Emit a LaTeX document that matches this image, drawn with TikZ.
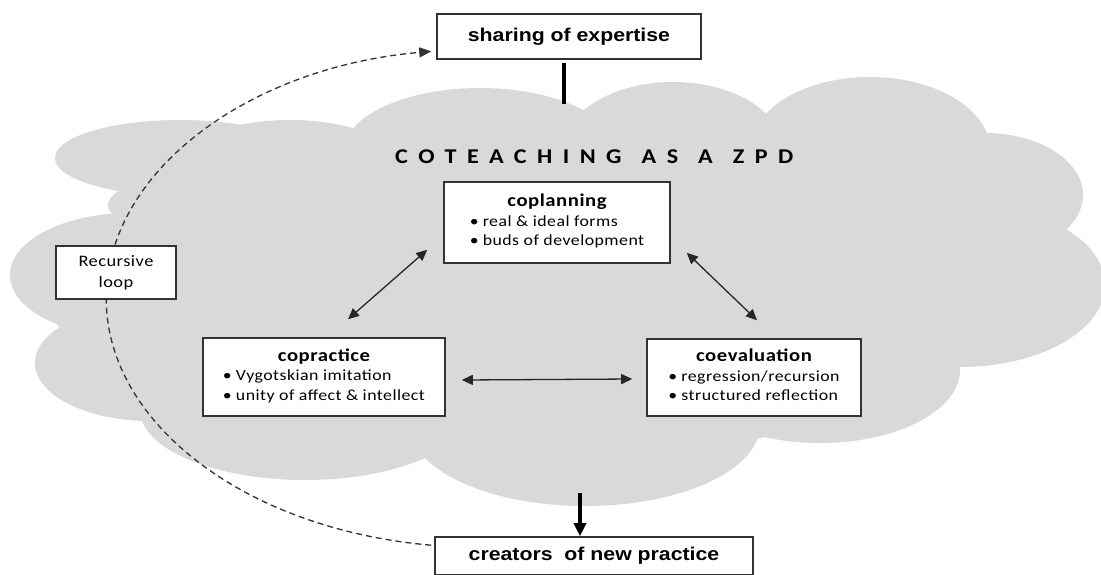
\documentclass[tikz,border=0pt]{standalone}
\usepackage{fontspec}
\setmainfont{Carlito}[FakeStretch=1.15]
\newfontfamily\arialf{Liberation Sans}[FakeStretch=1.15]
\newfontfamily\zpdf{Carlito}[FakeStretch=1.15,LetterSpace=50]
\newfontfamily\bodyf{Carlito}[FakeStretch=1.15,LetterSpace=3]
\usetikzlibrary{arrows.meta,calc}
\definecolor{cloudgray}{HTML}{D9D9D9}
\definecolor{boxline}{HTML}{333333}
\newcommand\cobul{\makebox[13pt][l]{\textbullet}}
\newcommand\cottl{\fontsize{18}{19.5}\selectfont\bfseries}
\newcommand\cobody{\bodyf\fontsize{15.5}{19.5}\selectfont}
\begin{document}
\begin{tikzpicture}[x=1pt,y=-1pt,
  box/.style={draw=boxline,line width=1.6pt,fill=white,inner sep=0pt,rectangle},
  dbl/.style={{Triangle[length=11pt,width=10pt]}-{Triangle[length=11pt,width=10pt]},line width=1.3pt,draw=black!85},
  heavy/.style={line width=4pt,draw=black},
  loopline/.style={dash pattern=on 6pt off 4pt,line width=1.3pt,draw=black!80,-{Triangle[length=12pt,width=10pt]}}
]
\path[use as bounding box, clip] (0,0) rectangle (1101,574);
\fill[white] (0,0) rectangle (1101,574);
% cloud
\begin{scope}[cloudgray]
\fill (180,158) ellipse[x radius=125,y radius=38];
\fill (290,165) ellipse[x radius=110,y radius=45];
\fill (480,150) ellipse[x radius=135,y radius=62];
\fill (673,150) ellipse[x radius=110,y radius=68];
\fill (870,150) ellipse[x radius=120,y radius=73];
\fill (985,195) ellipse[x radius=98,y radius=62];
\fill (960,285) ellipse[x radius=145,y radius=82];
\fill (820,370) ellipse[x radius=140,y radius=73];
\fill (585,425) ellipse[x radius=175,y radius=81];
\fill (305,410) ellipse[x radius=165,y radius=70];
\fill (150,363) ellipse[x radius=115,y radius=58];
\fill (130,275) ellipse[x radius=120,y radius=62];
\fill (200,205) ellipse[x radius=92,y radius=30];
\fill (120,190) -- (200,150) -- (380,140) -- (480,120) -- (580,125) -- (680,110) -- (767,125) -- (870,100) -- (990,150) -- (1040,220) -- (1050,290) -- (960,350) -- (830,420) -- (600,480) -- (400,455) -- (300,460) -- (150,400) -- (60,330) -- (40,280) -- (110,230) -- cycle;
\end{scope}
% outer boxes
\node[box,minimum width=264pt,minimum height=45pt] (share) at (569,36.5)
  {\arialf\bfseries\fontsize{18.5}{22}\selectfont sharing of expertise};
\node[box,minimum width=318pt,minimum height=38pt] (creators) at (594,556)
  {\arialf\bfseries\fontsize{18.5}{22}\selectfont creators\ \ of new practice};
% title
\node[inner sep=0pt,anchor=base west] (title) at (395,163)
  {\zpdf\bfseries\fontsize{21}{24}\selectfont COTEACHING\hspace{20pt}AS\hspace{20pt}A\hspace{20pt}ZPD};
% recursive loop
\coordinate (ls) at ($(creators.north west)+(-3,9)$);
\draw[loopline] (ls) arc[start angle=97.4,end angle=262.6,x radius=373,y radius=249];
\node[box,minimum width=120pt,minimum height=53pt,align=center,font=\bodyf\fontsize{16}{21}\selectfont] (loop) at (116,272.5) {Recursive\\loop};
% inner boxes
\node[box,minimum width=226pt,minimum height=81pt] (copl) at (557,222.5)
  {\cobody\begin{tabular}{@{}l@{}}\multicolumn{1}{@{}c@{}}{\cottl coplanning}\\
   \cobul real \& ideal forms\\ \cobul buds of development\end{tabular}};
\node[box,minimum width=242pt,minimum height=78pt] (copr) at (324,377)
  {\cobody\begin{tabular}{@{}l@{}}\multicolumn{1}{@{}c@{}}{\cottl copractice}\\
   \cobul Vygotskian imitation\\ \cobul unity of affect \& intellect\end{tabular}};
\node[box,minimum width=214pt,minimum height=77pt] (coev) at (754,377.5)
  {\cobody\begin{tabular}{@{}l@{}}\multicolumn{1}{@{}c@{}}{\cottl coevaluation}\\
   \cobul regression/recursion\\ \cobul structured reflection\end{tabular}};
% connectors
\draw[heavy] ([xshift=-5pt,yshift=-3pt]share.south) -- ++(0,41);
\draw[heavy,-{Triangle[length=13pt,width=12pt]}] ($(creators.north)+(-14,-43)$) -- ([xshift=-14pt]creators.north);
\draw[dbl] ($(copl.south west)+(-16,-14)$) -- ($(copr.north)+(24,-18)$);
\draw[dbl] ($(copl.south east)+(16,-11)$) -- ($(coev.north)+(3,-18)$);
\draw[dbl] ($(copr.east)+(16,3)$) -- ($(coev.west)+(-14,1.5)$);
\end{tikzpicture}
\end{document}
